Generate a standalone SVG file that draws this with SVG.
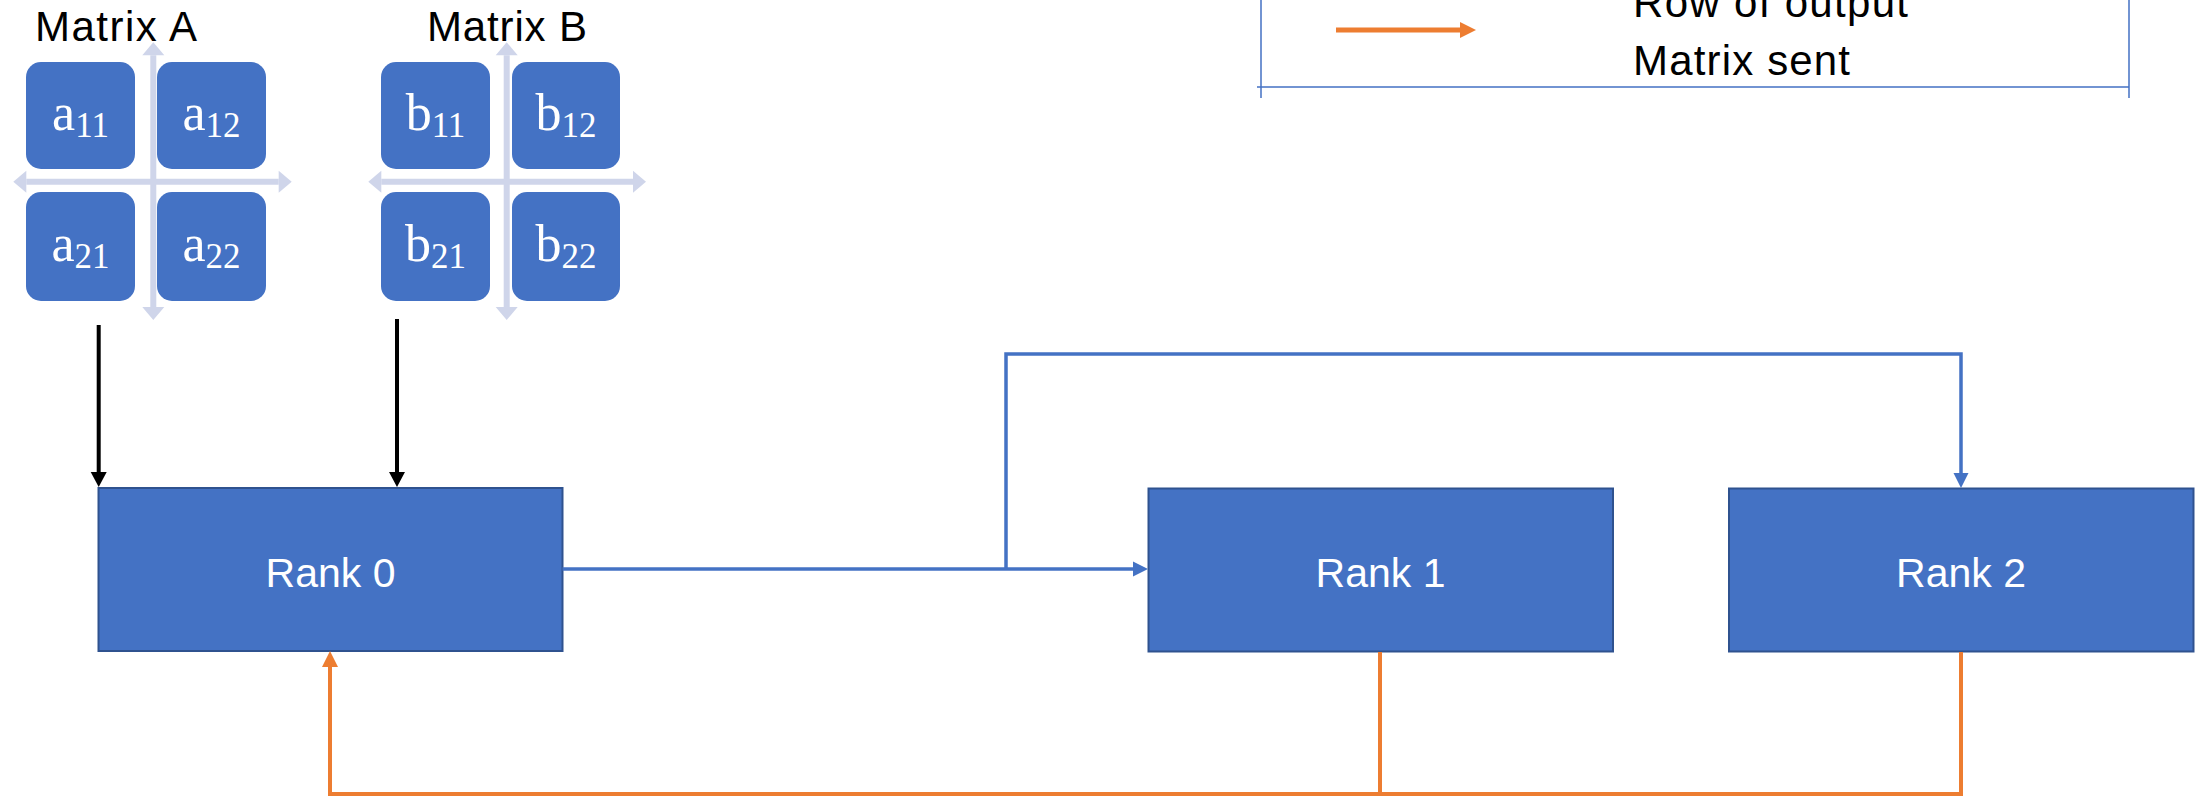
<svg xmlns="http://www.w3.org/2000/svg" width="2205" height="797" viewBox="0 0 2205 797">
<style>
  .cell { fill: #4472C4; }
  .rank { fill: #4472C4; stroke: #2F528F; stroke-width: 2; }
  .celltxt { font-family: "Liberation Serif", "DejaVu Serif", serif; font-size: 52px; fill: #FFFFFF; text-anchor: middle; }
  .sub { font-size: 35px; }
  .ranktxt { font-family: "Liberation Sans", Arial, sans-serif; font-size: 41px; fill: #FFFFFF; text-anchor: middle; }
  .label { font-family: "Liberation Sans", Arial, sans-serif; font-size: 42px; fill: #000000; }
  .cross { stroke: #CFD5EA; stroke-width: 6; fill: none; marker-start: url(#mCross); marker-end: url(#mCross); }
  .black { stroke: #000000; stroke-width: 4; fill: none; marker-end: url(#mBlack); }
  .blue { stroke: #4472C4; stroke-width: 3.5; fill: none; }
  .orange { stroke: #ED7D31; stroke-width: 4; fill: none; }
  .legendline { stroke: #4472C4; stroke-width: 1.5; fill: none; }
</style>
<defs>
  <marker id="mCross" markerUnits="userSpaceOnUse" markerWidth="30" markerHeight="30" refX="0" refY="0" orient="auto-start-reverse" style="overflow:visible">
    <path d="M0,-11 L13,0 L0,11 z" fill="#CFD5EA"/>
  </marker>
  <marker id="mBlack" markerUnits="userSpaceOnUse" markerWidth="30" markerHeight="30" refX="0" refY="0" orient="auto" style="overflow:visible">
    <path d="M0,-8 L15,0 L0,8 z" fill="#000000"/>
  </marker>
  <marker id="mBlue" markerUnits="userSpaceOnUse" markerWidth="30" markerHeight="30" refX="0" refY="0" orient="auto" style="overflow:visible">
    <path d="M0,-7.5 L15,0 L0,7.5 z" fill="#4472C4"/>
  </marker>
  <marker id="mOrange" markerUnits="userSpaceOnUse" markerWidth="30" markerHeight="30" refX="0" refY="0" orient="auto" style="overflow:visible">
    <path d="M0,-8 L16,0 L0,8 z" fill="#ED7D31"/>
  </marker>
</defs>
<rect width="2205" height="797" fill="#FFFFFF"/>

<g id="legend">
  <path class="legendline" d="M1261,0 V98 M2129,0 V98 M1257,87 H2129"/>
  <path d="M1336,30 H1460" stroke="#ED7D31" stroke-width="5" fill="none" marker-end="url(#mOrange)"/>
  <text class="label" x="1633" y="17" textLength="275">Row of output</text>
  <text class="label" x="1633" y="75" textLength="217">Matrix sent</text>
</g>

<g id="matrixA">
  <text class="label" x="35" y="41" textLength="162">Matrix A</text>
  <path class="cross" d="M153.3,55.3 V307"/>
  <path class="cross" d="M26.3,181.7 H278.7"/>
  <g id="a11"><rect class="cell" x="26" y="62" width="109" height="107" rx="15"/><text class="celltxt" x="80.5" y="130">a<tspan class="sub" dy="7">11</tspan></text></g>
  <g id="a12"><rect class="cell" x="157" y="62" width="109" height="107" rx="15"/><text class="celltxt" x="211.5" y="130">a<tspan class="sub" dy="7">12</tspan></text></g>
  <g id="a21"><rect class="cell" x="26" y="192" width="109" height="109" rx="15"/><text class="celltxt" x="80.5" y="261">a<tspan class="sub" dy="7">21</tspan></text></g>
  <g id="a22"><rect class="cell" x="157" y="192" width="109" height="109" rx="15"/><text class="celltxt" x="211.5" y="261">a<tspan class="sub" dy="7">22</tspan></text></g>
</g>

<g id="matrixB">
  <text class="label" x="427" y="41" textLength="160">Matrix B</text>
  <path class="cross" d="M506.7,55.3 V307"/>
  <path class="cross" d="M381.3,181.7 H633"/>
  <g id="b11"><rect class="cell" x="381" y="62" width="109" height="107" rx="15"/><text class="celltxt" x="435.5" y="130">b<tspan class="sub" dy="7">11</tspan></text></g>
  <g id="b12"><rect class="cell" x="512" y="62" width="108" height="107" rx="15"/><text class="celltxt" x="566" y="130">b<tspan class="sub" dy="7">12</tspan></text></g>
  <g id="b21"><rect class="cell" x="381" y="192" width="109" height="109" rx="15"/><text class="celltxt" x="435.5" y="261">b<tspan class="sub" dy="7">21</tspan></text></g>
  <g id="b22"><rect class="cell" x="512" y="192" width="108" height="109" rx="15"/><text class="celltxt" x="566" y="261">b<tspan class="sub" dy="7">22</tspan></text></g>
</g>

<g id="rank0">
  <rect class="rank" x="98.5" y="488" width="464" height="163"/>
  <text class="ranktxt" x="330.5" y="586.5">Rank 0</text>
</g>
<g id="rank1">
  <rect class="rank" x="1148.5" y="488.5" width="464.5" height="163"/>
  <text class="ranktxt" x="1380.5" y="586.5">Rank 1</text>
</g>
<g id="rank2">
  <rect class="rank" x="1729" y="488.5" width="464.5" height="163"/>
  <text class="ranktxt" x="1961" y="586.5">Rank 2</text>
</g>

<g id="connectors">
  <path class="black" d="M98.7,325 V472"/>
  <path class="black" d="M397,319 V472"/>
  <path class="blue" d="M562.5,569 H1133" marker-end="url(#mBlue)"/>
  <path class="blue" d="M1006,569 V354 H1961 V473" stroke-linejoin="miter" marker-end="url(#mBlue)"/>
  <path class="orange" d="M1380,652 V794"/>
  <path class="orange" d="M1961,652 V794 H330 V667" stroke-linejoin="miter" marker-end="url(#mOrange)"/>
</g>
</svg>
